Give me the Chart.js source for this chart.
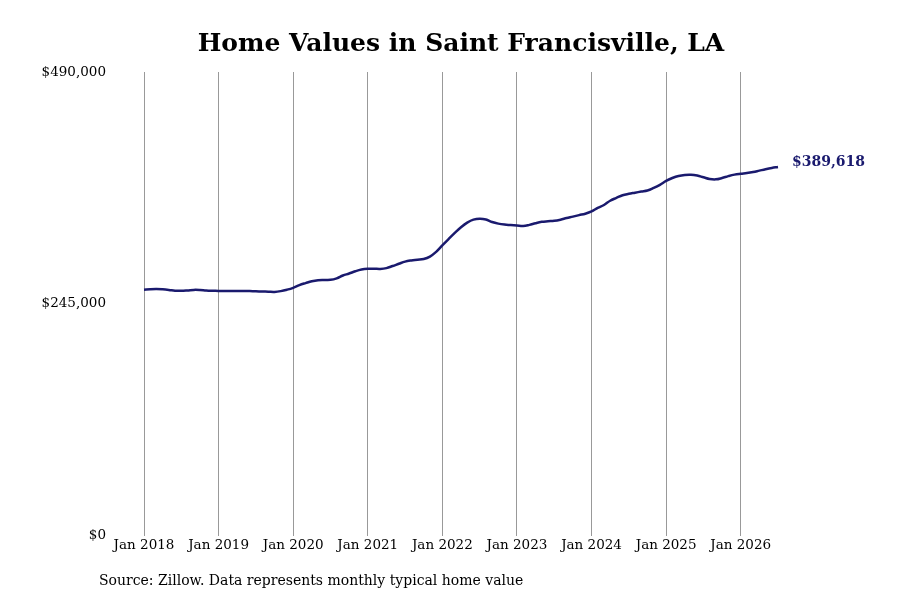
<!DOCTYPE html>
<html lang="en">

<head>
    <meta charset="UTF-8">
    <title>Home Values in Saint Francisville, LA</title>
    <script src="https://cdn.jsdelivr.net/npm/chart.js@4.4.1/dist/chart.umd.min.js"></script>
    <style>
        body { margin: 0; background: #fff; }
        #wrap { position: relative; width: 900px; height: 600px; }
        #title {
            position: absolute; left: 0; top: 28px; width: 922px; text-align: center;
            font: bold 25px "DejaVu Serif", serif; color: #000;
        }
        #source {
            position: absolute; left: 99px; top: 572px;
            font: 14px "DejaVu Serif", serif; color: #000;
        }
    </style>
</head>

<body>
    <div id="wrap">
        <canvas id="myChart" width="900" height="600"></canvas>
        <div id="title">Home Values in Saint Francisville, LA</div>
        <div id="source">Source: Zillow. Data represents monthly typical home value</div>
    </div>
    <script>
        const months = ['Jan', 'Feb', 'Mar', 'Apr', 'May', 'Jun', 'Jul', 'Aug', 'Sep', 'Oct', 'Nov', 'Dec'];
        const years = [2018, 2019, 2020, 2021, 2022, 2023, 2024, 2025, 2026];
        const yTicks = [0, 245000, 490000];

        // monthly typical home value, Jan 2018 .. Jul 2026
        const values2018 = [260000, 260500, 260700, 260400, 259800, 259000, 258800, 259200, 259800, 259700, 259200, 258900];
        const values2019 = [258700, 258600, 258700, 258700, 258600, 258500, 258300, 258100, 257900, 257700, 258500, 260000];
        const values2020 = [262000, 264800, 267000, 269000, 270100, 270300, 270400, 272000, 275000, 277100, 279500, 281300];
        const values2021 = [282100, 282200, 282000, 282800, 285000, 287400, 289700, 290900, 291600, 292400, 295000, 300000];
        const values2022 = [306800, 313500, 320000, 326000, 330800, 334000, 335000, 334200, 331500, 329800, 328800, 328300];
        const values2023 = [327800, 327300, 328500, 330300, 331700, 332300, 332800, 334000, 335700, 337200, 338800, 340300];
        const values2024 = [342700, 346500, 349500, 354000, 357000, 359800, 361300, 362500, 363700, 364800, 367500, 370800];
        const values2025 = [375000, 378000, 380200, 381300, 381500, 380600, 378800, 377000, 376600, 378000, 380000, 381600];
        const values2026 = [382500, 383200, 384300, 385800, 387300, 388600, 389618];

        const values = [].concat(values2018, values2019, values2020, values2021, values2022,
            values2023, values2024, values2025, values2026);
        const labels = [];
        years.forEach(y => months.forEach(m => labels.push(m + ' ' + y)));
        labels.length = values.length;

        const lineColor = '#1a1a6e';
        const fmt = v => '$' + v.toLocaleString('en-US');

        const endLabel = {
            id: 'endLabel',
            afterDatasetsDraw(chart) {
                const pts = chart.getDatasetMeta(0).data;
                const last = pts[pts.length - 1];
                const c = chart.ctx;
                c.save();
                c.font = 'bold 14px "DejaVu Serif"';
                c.fillStyle = lineColor;
                c.textBaseline = 'middle';
                c.fillText(fmt(values[values.length - 1]), last.x + 14, last.y - 5);
                c.restore();
            }
        };

        var ctx = document.getElementById('myChart').getContext('2d');
        var myChart = new Chart(ctx, {
            type: 'line',
            data: {
                labels: labels,
                datasets: [{
                    data: values,
                    borderColor: lineColor,
                    borderWidth: 2.5,
                    pointRadius: 0,
                    tension: 0.4,
                    fill: false
                }]
            },
            options: {
                responsive: false,
                animation: false,
                layout: { padding: { top: 72, right: 122, bottom: 44, left: 0 } },
                plugins: { legend: { display: false }, tooltip: { enabled: false } },
                scales: {
                    x: {
                        offset: false,
                        border: { display: false },
                        grid: {
                            color: c => (c.index % 12 === 0 ? '#999999' : 'rgba(0,0,0,0)'),
                            lineWidth: 1,
                            drawTicks: false
                        },
                        ticks: {
                            autoSkip: false,
                            maxRotation: 0,
                            padding: 2,
                            color: '#000',
                            font: { family: 'DejaVu Serif', size: 13.5 },
                            callback: function (v, i) { return i % 12 === 0 ? labels[i] : ''; }
                        }
                    },
                    y: {
                        min: 0,
                        max: 490000,
                        afterBuildTicks: axis => { axis.ticks = yTicks.map(v => ({ value: v })); },
                        border: { display: false },
                        grid: { display: false, drawTicks: false },
                        afterFit: axis => { axis.width = 144; },
                        ticks: {
                            padding: 38,
                            color: '#000',
                            font: { family: 'DejaVu Serif', size: 13.5 },
                            callback: v => fmt(v)
                        }
                    }
                }
            },
            plugins: [endLabel]
        });
    </script>
</body>

</html>
